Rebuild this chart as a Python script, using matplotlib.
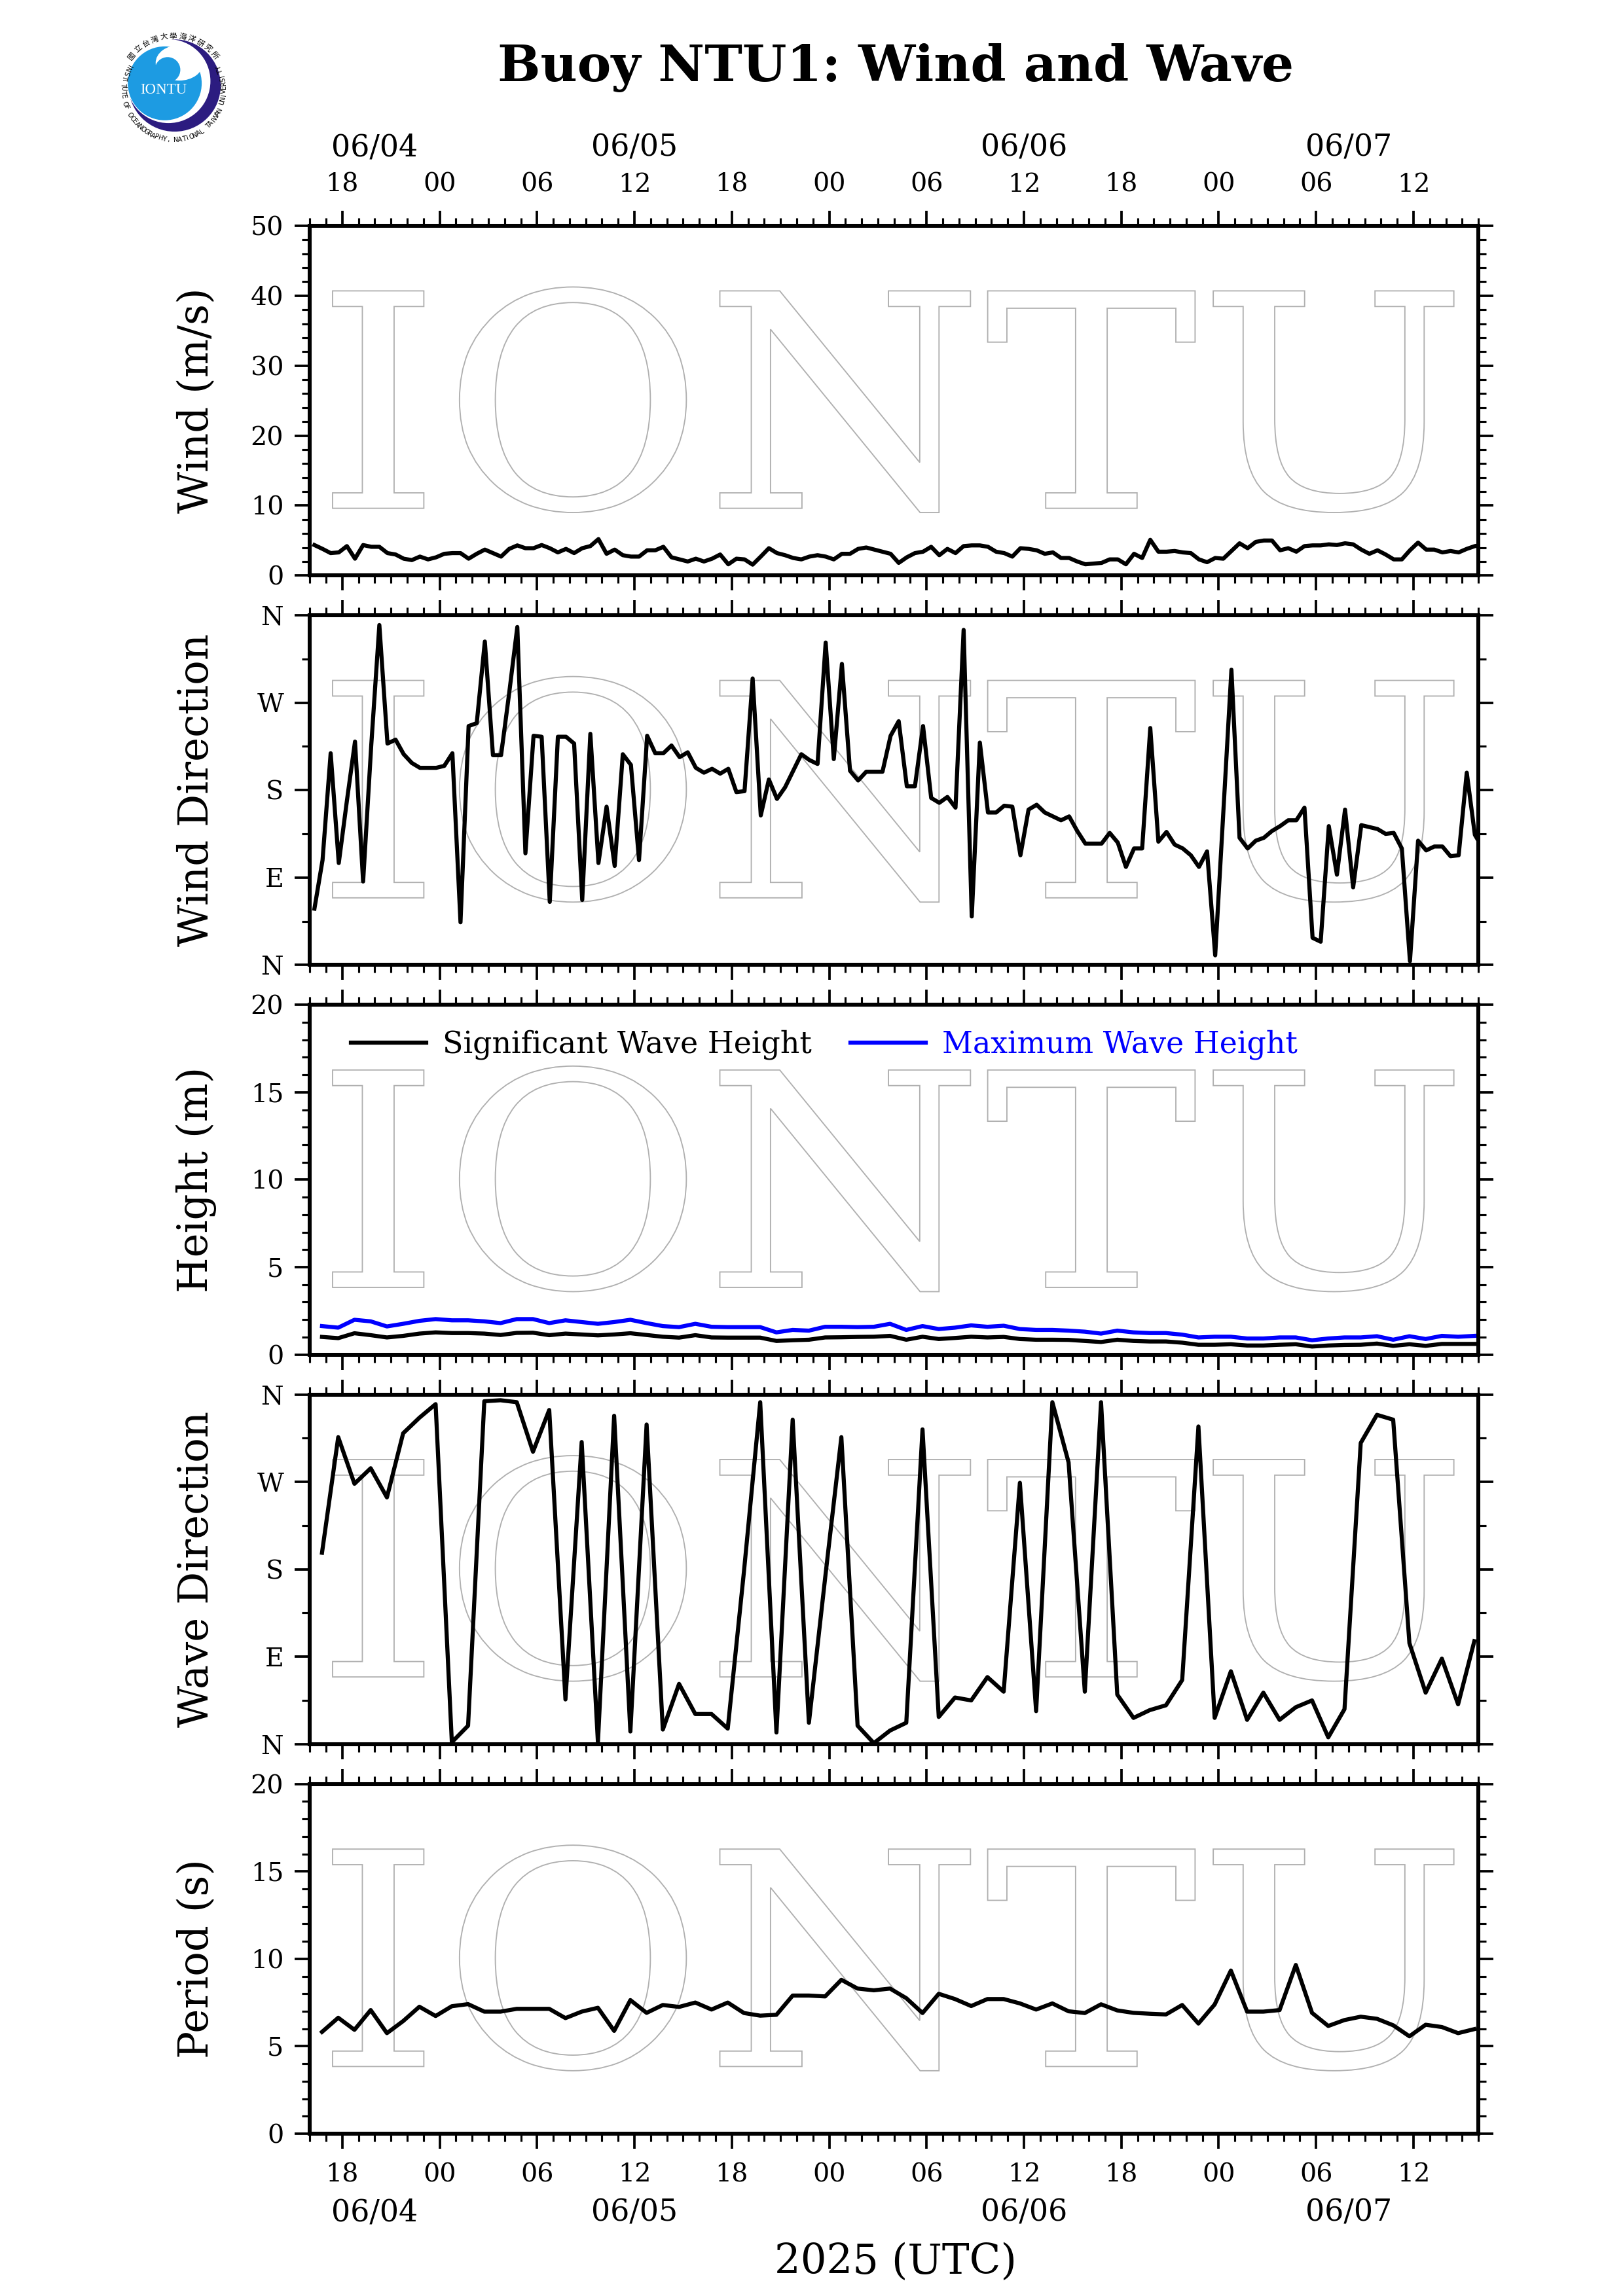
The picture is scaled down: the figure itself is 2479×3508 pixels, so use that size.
import numpy as np
import pandas as pd
import matplotlib
matplotlib.use("Agg")
import matplotlib.pyplot as plt
import matplotlib.dates as mdates
from matplotlib.textpath import TextPath
from matplotlib.font_manager import FontProperties
from matplotlib.patches import PathPatch, Circle, Ellipse
from matplotlib.transforms import Affine2D

plt.rcParams["font.family"] = ["DejaVu Serif"]

# ── Data ──────────────────────────────────────────────────────────────────────

t_start = pd.Timestamp("2025-06-04 16:00")
t_end = pd.Timestamp("2025-06-07 16:00")
wind_start = "2025-06-04 16:17"   # 30-min records
wave_start = "2025-06-04 16:45"   # hourly records

wind_speed = [
    4.35, 3.8, 3.2, 3.3, 4.2, 2.4, 4.35, 4.1, 4.1, 3.2,
    3.0, 2.4, 2.2, 2.7, 2.3, 2.6, 3.1, 3.2, 3.2, 2.4,
    3.1, 3.7, 3.2, 2.7, 3.8, 4.3, 3.9, 3.9, 4.35, 3.9,
    3.3, 3.8, 3.2, 3.9, 4.2, 5.2, 3.1, 3.7, 2.9, 2.7,
    2.7, 3.6, 3.6, 4.1, 2.6, 2.3, 2.0, 2.4, 2.0, 2.4,
    3.0, 1.6, 2.4, 2.3, 1.55, 2.7, 3.9, 3.2, 2.9, 2.5,
    2.3, 2.7, 2.9, 2.7, 2.3, 3.1, 3.1, 3.8, 4.0, 3.7,
    3.4, 3.1, 1.8, 2.6, 3.2, 3.4, 4.1, 2.9, 3.8, 3.2,
    4.2, 4.3, 4.3, 4.1, 3.4, 3.2, 2.7, 3.9, 3.8, 3.6,
    3.1, 3.3, 2.5, 2.5, 2.0, 1.6, 1.7, 1.8, 2.3, 2.3,
    1.6, 3.1, 2.5, 5.1, 3.4, 3.4, 3.5, 3.3, 3.2, 2.3,
    1.9, 2.5, 2.4, 3.5, 4.6, 3.9, 4.8, 5.0, 5.0, 3.6,
    3.9, 3.4, 4.2, 4.3, 4.3, 4.45, 4.35, 4.6, 4.45, 3.7,
    3.1, 3.6, 3.0, 2.3, 2.3, 3.6, 4.7, 3.7, 3.7, 3.3,
    3.5, 3.3, 3.8, 4.2, 4.4,
]

wind_dir = [
    58, 108, 218, 105, 169, 230, 86, 226, 350, 228,
    232, 217, 208, 203, 203, 203, 205, 218, 44, 246,
    249, 333, 216, 216, 280, 348, 115, 236, 235, 65,
    235, 235, 228, 67, 238, 105, 163, 102, 217, 206,
    108, 236, 218, 218, 226, 214, 219, 203, 198, 202,
    197, 202, 178, 179, 295, 154, 191, 171, 183, 200,
    217, 211, 207, 332, 212, 310, 200, 190, 199, 199,
    199, 236, 251, 184, 184, 246, 172, 167, 173, 162,
    345, 50, 229, 157, 157, 164, 163, 113, 160, 165,
    157, 153, 149, 153, 138, 125, 125, 125, 136, 126,
    101, 120, 120, 244, 127, 137, 124, 120, 113, 101,
    117, 10, 157, 304, 131, 120, 128, 131, 138, 143,
    149, 149, 162, 28, 24, 143, 93, 160, 80, 144,
    142, 140, 135, 136, 120, 4, 128, 118, 122, 122,
    112, 113, 198, 134, 120,
]

sig_height = [
    1.01, 0.94, 1.22, 1.11, 0.98, 1.07, 1.20, 1.27, 1.23, 1.23,
    1.20, 1.12, 1.24, 1.25, 1.11, 1.20, 1.15, 1.10, 1.15, 1.22,
    1.12, 1.02, 0.97, 1.11, 0.98, 0.97, 0.97, 0.97, 0.78, 0.82,
    0.85, 0.98, 0.99, 1.01, 1.02, 1.07, 0.85, 1.02, 0.89, 0.95,
    1.02, 0.98, 1.01, 0.89, 0.85, 0.85, 0.84, 0.78, 0.72, 0.85,
    0.78, 0.75, 0.75, 0.68, 0.56, 0.56, 0.59, 0.52, 0.52, 0.56,
    0.59, 0.46, 0.52, 0.55, 0.56, 0.63, 0.50, 0.59, 0.50, 0.61,
    0.61, 0.61,
]

max_height = [
    1.63, 1.54, 1.99, 1.90, 1.61, 1.76, 1.93, 2.03, 1.96, 1.96,
    1.90, 1.80, 2.03, 2.03, 1.80, 1.96, 1.86, 1.76, 1.86, 1.99,
    1.80, 1.63, 1.57, 1.76, 1.59, 1.57, 1.57, 1.57, 1.27, 1.41,
    1.37, 1.59, 1.59, 1.57, 1.59, 1.76, 1.41, 1.63, 1.46, 1.54,
    1.67, 1.59, 1.65, 1.46, 1.41, 1.41, 1.37, 1.31, 1.20, 1.37,
    1.27, 1.23, 1.23, 1.14, 0.98, 1.02, 1.02, 0.92, 0.92, 0.98,
    0.98, 0.82, 0.92, 0.98, 0.98, 1.05, 0.85, 1.05, 0.89, 1.07,
    1.02, 1.07,
]

wave_dir = [
    197, 316, 268, 284, 254, 320, 336, 350, 2, 19,
    353, 354, 352, 301, 344, 46, 311, 2, 338, 13,
    329, 15, 62, 31, 31, 16, 178, 352, 12, 334,
    22, 171, 316, 19, 1, 14, 22, 324, 28, 48,
    45, 69, 54, 269, 34, 352, 290, 54, 352, 51,
    27, 35, 40, 66, 327, 27, 75, 25, 53, 25,
    38, 45, 7, 36, 310, 339, 334, 104, 53, 88,
    41, 106,
]

period = [
    5.82, 6.63, 5.94, 7.07, 5.75, 6.44, 7.26, 6.73, 7.29, 7.41,
    6.98, 6.98, 7.14, 7.14, 7.14, 6.61, 6.98, 7.20, 5.88, 7.64,
    6.91, 7.36, 7.25, 7.50, 7.10, 7.50, 6.90, 6.75, 6.80, 7.90,
    7.90, 7.85, 8.80, 8.30, 8.20, 8.30, 7.75, 6.90, 8.00, 7.70,
    7.30, 7.70, 7.70, 7.45, 7.10, 7.45, 7.00, 6.90, 7.40, 7.05,
    6.91, 6.86, 6.82, 7.36, 6.30, 7.39, 9.33, 6.98, 6.98, 7.07,
    9.65, 6.91, 6.16, 6.50, 6.69, 6.57, 6.20, 5.57, 6.23, 6.10,
    5.75, 5.98,
]

dir_ticks = [0, 90, 180, 270, 360]
dir_labels = ["N", "E", "S", "W", "N"]

wind_time = pd.date_range(wind_start, periods=len(wind_speed), freq="30min")
wave_time = pd.date_range(wave_start, periods=len(sig_height), freq="h")

LW = 1.5


# ── Helpers ───────────────────────────────────────────────────────────────────

def add_watermark(ax):
    fp = FontProperties(family="DejaVu Serif")
    tp = TextPath((0, 0), "IONTU", size=1, prop=fp)
    ext = tp.get_extents()
    x0, x1, y0, y1 = 0.0195, 0.979, 0.18, 0.825
    tr = (Affine2D().translate(-ext.x0, -ext.y0)
          .scale((x1 - x0) / ext.width, (y1 - y0) / ext.height)
          .translate(x0, y0) + ax.transAxes)
    ax.add_patch(PathPatch(tp, transform=tr, facecolor="none",
                           edgecolor="#b0b0b0", lw=0.45, zorder=0))


def style_axis(ax, top_labels=False, bottom_labels=False):
    ax.set_xlim(t_start, t_end)
    ax.xaxis.set_major_locator(mdates.HourLocator(byhour=[0, 6, 12, 18]))
    ax.xaxis.set_minor_locator(mdates.HourLocator())
    ax.xaxis.set_major_formatter(mdates.DateFormatter("%H"))
    ax.tick_params(axis="x", which="both", direction="out", top=True, bottom=True,
                   labeltop=top_labels, labelbottom=bottom_labels, pad=5)
    ax.tick_params(axis="y", which="both", direction="out", left=True, right=True, pad=4)
    ax.tick_params(which="major", length=5.6, width=0.9, labelsize=9.5)
    ax.tick_params(which="minor", length=2.8, width=0.75)
    for sp in ax.spines.values():
        sp.set_linewidth(1.45)
    add_watermark(ax)


def add_dates(ax, where):
    days = pd.date_range(t_start.normalize(), t_end.normalize(), freq="D")
    for d in days:
        lo = max(d, t_start)
        hi = min(d + pd.Timedelta(days=1), t_end)
        if hi <= lo:
            continue
        mid = lo + (hi - lo) / 2
        if where == "top":
            ax.annotate(d.strftime("%m/%d"), xy=(mid, 1), xycoords=("data", "axes fraction"),
                        xytext=(0, 28.5), textcoords="offset points",
                        ha="center", va="center", fontsize=11)
        else:
            ax.annotate(d.strftime("%m/%d"), xy=(mid, 0), xycoords=("data", "axes fraction"),
                        xytext=(0, -29), textcoords="offset points",
                        ha="center", va="center", fontsize=11)


def ylabel(ax, text):
    ax.text(-0.097, 0.5, text, transform=ax.transAxes, rotation=90,
            ha="center", va="center", fontsize=15)


def draw_logo(fig):
    lax = fig.add_axes([170 / 2479, 1 - 235 / 3508, 210 / 2479, 210 / 3508])
    lax.set_xlim(60, 690)
    lax.set_ylim(585, -45)
    lax.set_aspect("equal")
    lax.axis("off")
    navy, blue = "#2c1c80", "#1d9be2"
    lax.add_patch(Circle((350, 272), 205, color=navy, zorder=1))
    lax.add_patch(Circle((322, 252), 186, color="white", zorder=2))
    lax.add_patch(Circle((305, 262), 163, color=blue, zorder=3))
    lax.add_patch(Ellipse((372, 168), 205, 150, color="white", zorder=4))
    lax.add_patch(Circle((318, 200), 52, color=blue, zorder=5))
    lax.text(300, 292, "IONTU", color="white", fontsize=5.5, ha="center", va="center",
             family="Liberation Serif", zorder=6)
    ring = "INSTITUTE OF OCEANOGRAPHY, NATIONAL TAIWAN UNIVERSITY"
    angs = np.linspace(152, 385, len(ring))
    for ch, a in zip(ring, angs):
        r = np.deg2rad(a)
        lax.text(345 + 232 * np.cos(r), 290 - 232 * np.sin(r), ch, rotation=a + 90,
                 ha="center", va="center", fontsize=2.4, family="DejaVu Sans", zorder=6)
    cn = "國立台灣大學海洋研究所"
    angs = np.linspace(141, 40, len(cn))
    for ch, a in zip(cn, angs):
        r = np.deg2rad(a)
        lax.text(345 + 245 * np.cos(r), 290 - 245 * np.sin(r), ch, rotation=a - 90,
                 ha="center", va="center", fontsize=2.8,
                 family=["Noto Sans CJK TC", "DejaVu Sans"], zorder=6)


# ── Figure ────────────────────────────────────────────────────────────────────

fig = plt.figure(figsize=(2479 / 300, 3508 / 300), dpi=300)

axes = []
for i in range(5):
    bottom = 1 - (390 + 264 * i) / 1556
    axes.append(fig.add_axes([0.1909, bottom, 0.72, 237 / 1556]))
ax1, ax2, ax3, ax4, ax5 = axes

# Wind speed
style_axis(ax1, top_labels=True)
ax1.plot(wind_time, wind_speed, color="black", lw=LW, zorder=3)
ax1.set_ylim(0, 50)
ax1.set_yticks(range(0, 51, 10))
ax1.set_yticks(range(0, 51, 2), minor=True)
ylabel(ax1, "Wind (m/s)")
add_dates(ax1, "top")

# Wind direction
style_axis(ax2)
ax2.plot(wind_time, wind_dir, color="black", lw=LW, zorder=3)
ax2.set_ylim(0, 360)
ax2.set_yticks(dir_ticks, dir_labels)
ax2.set_yticks(range(0, 361, 45), minor=True)
ylabel(ax2, "Wind Direction")

# Wave heights
style_axis(ax3)
ax3.plot(wave_time, sig_height, color="black", lw=LW, zorder=3, label="Significant Wave Height")
ax3.plot(wave_time, max_height, color="#0000ff", lw=LW, zorder=3, label="Maximum Wave Height")
ax3.set_ylim(0, 20)
ax3.set_yticks(range(0, 21, 5))
ax3.set_yticks(range(0, 21, 1), minor=True)
ylabel(ax3, "Height (m)")
leg = ax3.legend(loc="center left", bbox_to_anchor=(0.025, 0.886), ncol=2, frameon=False,
                 fontsize=11, handlelength=2.5, handletextpad=0.55, columnspacing=1.3,
                 borderaxespad=0)
for txt, ln in zip(leg.get_texts(), leg.get_lines()):
    txt.set_color(ln.get_color())

# Wave direction
style_axis(ax4)
ax4.plot(wave_time, wave_dir, color="black", lw=LW, zorder=3)
ax4.set_ylim(0, 360)
ax4.set_yticks(dir_ticks, dir_labels)
ax4.set_yticks(range(0, 361, 45), minor=True)
ylabel(ax4, "Wave Direction")

# Period
style_axis(ax5, bottom_labels=True)
ax5.plot(wave_time, period, color="black", lw=LW, zorder=3)
ax5.set_ylim(0, 20)
ax5.set_yticks(range(0, 21, 5))
ax5.set_yticks(range(0, 21, 1), minor=True)
ylabel(ax5, "Period (s)")
add_dates(ax5, "bottom")

fig.text(607 / 1100, 1 - 46 / 1556, "Buoy NTU1: Wind and Wave", ha="center", va="center",
         fontsize=18.6, fontweight="bold")
fig.text(607 / 1100, 1 - 1533 / 1556, "2025 (UTC)", ha="center", va="center", fontsize=15)

draw_logo(fig)

fig.savefig("out.png", dpi=300)
plt.close(fig)
